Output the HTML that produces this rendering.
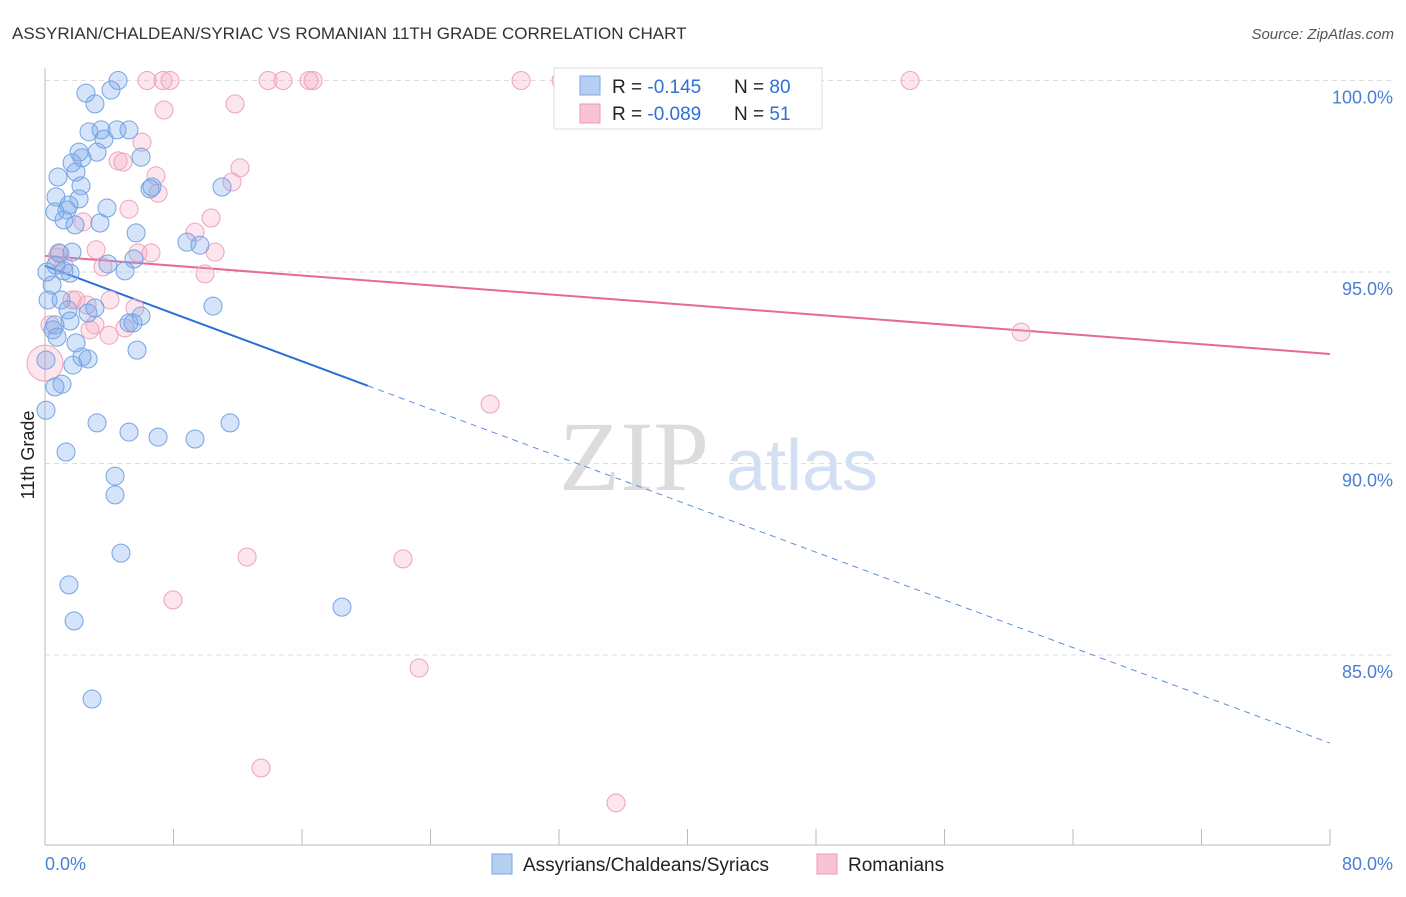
<!DOCTYPE html>
<html><head><meta charset="utf-8"><style>
body{margin:0;background:#fff;font-family:"Liberation Sans",sans-serif}
svg text{font-family:"Liberation Sans",sans-serif}
</style></head><body>
<svg id="c" width="1406" height="892">
<text x="12" y="39" font-size="17" fill="#333">ASSYRIAN/CHALDEAN/SYRIAC VS ROMANIAN 11TH GRADE CORRELATION CHART</text>
<text x="1394" y="39" font-size="15" fill="#555" font-style="italic" text-anchor="end">Source: ZipAtlas.com</text>
<text x="634" y="490" font-size="100" fill="#dcdcdc" text-anchor="middle" style="font-family:'Liberation Serif',serif">ZIP</text>
<text x="802" y="490" font-size="72" fill="#d3e0f4" text-anchor="middle">atlas</text>
<g id="grid"></g><g id="axes"></g><g id="trend"></g><g id="pts"></g>
<text transform="translate(34,455) rotate(-90)" font-size="18" fill="#222" text-anchor="middle">11th Grade</text>
<text x="45" y="870" font-size="18" fill="#4a7fd6">0.0%</text>
<text x="1393" y="870" font-size="18" fill="#4a7fd6" text-anchor="end">80.0%</text>
<g>
<rect x="554" y="68" width="268" height="61" fill="#fff" stroke="#ddd"/>
<rect x="580" y="76" width="20" height="19" fill="#b5cff3" stroke="#7ea6e4"/>
<rect x="580" y="104" width="20" height="19" fill="#f8c4d4" stroke="#ec9ab5"/>
<text x="612" y="93" font-size="19" fill="#222">R = <tspan fill="#2f6fd6">-0.145</tspan></text>
<text x="734" y="93" font-size="19" fill="#222">N = <tspan fill="#2f6fd6">80</tspan></text>
<text x="612" y="120" font-size="19" fill="#222">R = <tspan fill="#2f6fd6">-0.089</tspan></text>
<text x="734" y="120" font-size="19" fill="#222">N = <tspan fill="#2f6fd6"> 51</tspan></text>
</g>
<g>
<rect x="492" y="854" width="20" height="20" fill="#b5cff3" stroke="#7ea6e4"/>
<text x="523" y="871" font-size="19" fill="#222">Assyrians/Chaldeans/Syriacs</text>
<rect x="817" y="854" width="20" height="20" fill="#f8c4d4" stroke="#ec9ab5"/>
<text x="848" y="871" font-size="19" fill="#222">Romanians</text>
</g>
</svg>
<script>
const yTicks=[100,95,90,85];
const yTickLabels=["100.0%","95.0%","90.0%","85.0%"];
const blueX=[4.55,2.55,4.11,3.11,2.74,3.49,4.48,5.23,3.67,2.12,3.24,2.30,1.68,5.98,1.93,0.81,2.24,2.12,0.68,6.66,6.54,11.02,0.62,1.37,1.49,1.18,1.87,3.42,3.86,5.67,8.84,9.65,0.87,1.68,3.92,5.54,4.98,1.18,0.12,0.44,0.19,1.00,1.43,2.68,10.46,5.23,5.48,5.98,1.56,0.62,0.75,1.93,5.73,2.30,2.68,1.74,1.06,0.62,0.06,0.06,3.24,5.23,7.04,9.34,11.52,1.31,4.36,4.36,4.73,1.49,1.81,2.93,18.49,0.50,3.11,0.68,1.56];
const blueY=[100,99.67,99.75,99.39,98.66,98.71,98.71,98.71,98.47,98.13,98.13,97.98,97.85,98.00,97.61,97.48,97.25,96.91,96.96,97.22,97.17,97.22,96.57,96.62,96.75,96.36,96.23,96.28,96.67,96.02,95.78,95.70,95.50,95.52,95.21,95.34,95.03,95.03,95.00,94.66,94.27,94.27,94.01,93.93,94.11,93.67,93.67,93.85,93.72,93.62,93.30,93.15,92.96,92.78,92.73,92.57,92.07,92.00,92.70,91.39,91.06,90.82,90.69,90.64,91.06,90.30,89.67,89.18,87.66,86.83,85.89,83.85,86.25,93.49,94.06,95.18,94.97];
const pinkX=[7.35,7.78,6.35,13.89,14.82,16.44,16.69,29.64,32.13,53.86,7.41,11.83,6.04,4.55,4.86,12.14,11.64,6.91,7.04,5.23,10.34,9.34,2.37,3.18,0.93,1.18,3.61,5.79,6.60,10.59,9.96,1.68,1.93,2.62,4.05,3.11,5.60,3.99,4.98,2.80,0.31,0,60.77,27.71,12.58,22.29,7.97,23.29,13.45,35.55,0.75];
const pinkY=[100,100,100,100,100,100,100,100,100,100,99.23,99.39,98.39,97.90,97.87,97.72,97.35,97.51,97.06,96.64,96.41,96.04,96.31,95.58,95.48,95.18,95.13,95.50,95.50,95.52,94.95,94.27,94.27,94.14,94.27,93.62,94.06,93.35,93.54,93.49,93.62,92.62,93.43,91.55,87.56,87.51,86.44,84.66,82.05,81.14,95.39];
const blueTrend=[95.16,82.70];
const pinkTrend=[95.42,92.86];
const blueSolidEnd=20.1;
const NS="http://www.w3.org/2000/svg";
const X=v=>45+v*16.0625;
const Y=v=>80.5+(100-v)*38.3;
function mk(t,a,p){const e=document.createElementNS(NS,t);for(const k in a)e.setAttribute(k,a[k]);document.getElementById(p).appendChild(e);return e;}
yTicks.forEach((t,i)=>{
  const l=mk('line',{x1:45,x2:1393,y1:Y(t),y2:Y(t),stroke:'#ddd','stroke-dasharray':'5,4'},'grid');
  
  
  const tx=mk('text',{x:1393,y:Y(t)+23,'font-size':18,fill:'#4a7fd6','text-anchor':'end'},'grid');
  tx.textContent=yTickLabels[i];
  
  
});
const ya=mk('line',{x1:45,x2:45,y1:68,y2:845,stroke:'#bbb'},'axes');


const xa=mk('line',{x1:45,x2:1330,y1:845,y2:845,stroke:'#bbb'},'axes');


for(let i=0;i<=10;i++){const t=mk('line',{x1:X(i*8),x2:X(i*8),y1:829,y2:845,stroke:'#bbb'},'axes');

}
function dot(x,y,f,s,name,r){const c=mk('circle',{cx:X(x),cy:Y(y),r:r||9,fill:f,stroke:s,'stroke-width':1},'pts');

}
pinkX.forEach((x,i)=>dot(x,pinkY[i],'rgba(246,170,196,0.3)','#efa2bd','romanian-point',(x===0&&pinkY[i]<93)?18:9));
blueX.forEach((x,i)=>dot(x,blueY[i],'rgba(125,170,235,0.32)','#76a3e4','assyrian-point'));
const bt=v=>blueTrend[0]+(blueTrend[1]-blueTrend[0])*v/80;
const pt=v=>pinkTrend[0]+(pinkTrend[1]-pinkTrend[0])*v/80;
const l1=mk('line',{x1:X(0),y1:Y(bt(0)),x2:X(blueSolidEnd),y2:Y(bt(blueSolidEnd)),stroke:'#2a6fd8','stroke-width':2},'trend');


const l2=mk('line',{x1:X(blueSolidEnd),y1:Y(bt(blueSolidEnd)),x2:X(80),y2:Y(bt(80)),stroke:'#5b90da','stroke-width':1,'stroke-dasharray':'6,5'},'trend');


const l3=mk('line',{x1:X(0),y1:Y(pt(0)),x2:X(80),y2:Y(pt(80)),stroke:'#e56a98','stroke-width':2},'trend');


</script>
</body></html>
